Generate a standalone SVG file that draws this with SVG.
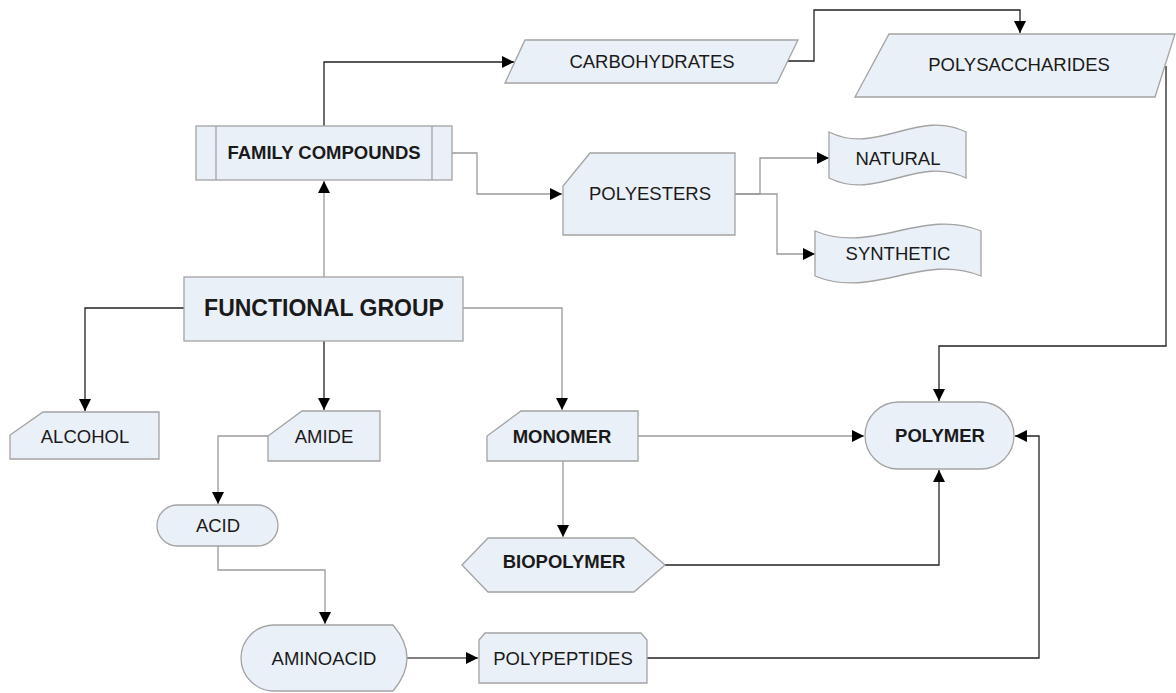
<svg xmlns="http://www.w3.org/2000/svg" width="1176" height="693" viewBox="0 0 1176 693">
<style>
.n{fill:#eaf0f8;stroke:#a3a3a3;stroke-width:1.3}
.t{font-family:"Liberation Sans",Arial,sans-serif;font-size:18.5px;fill:#1a1a1a;text-anchor:middle}
.b{font-weight:bold}
.k{fill:none;stroke:#222;stroke-width:1.3}
.g{fill:none;stroke:#9a9a9a;stroke-width:1.3}
</style>
<defs>
<marker id="ah" markerUnits="userSpaceOnUse" markerWidth="13" markerHeight="13" refX="12" refY="6" orient="auto">
<path d="M0,0 L12,6 L0,12 Z" fill="#000"/>
</marker>
</defs>
<rect width="1176" height="693" fill="#fff"/>
<g id="connectors">
<path class="g" d="M324,277 V181" marker-end="url(#ah)"/>
<path class="k" d="M324,126 V62 H514" marker-end="url(#ah)"/>
<path class="k" d="M787,61 H814 V10 H1020 V33" marker-end="url(#ah)"/>
<path class="k" d="M1166,66 V346 H939 V401" marker-end="url(#ah)"/>
<path class="g" d="M452,153 H477 V194 H562" marker-end="url(#ah)"/>
<path class="g" d="M735,194 H760 V158 H829" marker-end="url(#ah)"/>
<path class="g" d="M735,194 H777 V254 H815" marker-end="url(#ah)"/>
<path class="k" d="M184,308 H85 V411" marker-end="url(#ah)"/>
<path class="k" d="M324,341 V410" marker-end="url(#ah)"/>
<path class="g" d="M463,308 H562 V410" marker-end="url(#ah)"/>
<path class="g" d="M268,436 H218 V504" marker-end="url(#ah)"/>
<path class="g" d="M218,546 V570 H325 V624" marker-end="url(#ah)"/>
<path class="g" d="M407,658 H478" marker-end="url(#ah)" style="stroke:#555"/>
<path class="k" d="M647,658 H1039 V436 H1015" marker-end="url(#ah)"/>
<path class="g" d="M638,436 H864" marker-end="url(#ah)"/>
<path class="g" d="M563,461 V537" marker-end="url(#ah)"/>
<path class="k" d="M665,565 H939 V470" marker-end="url(#ah)"/>
</g>
<g id="family-compounds">
<rect class="n" x="196" y="126" width="256" height="54"/>
<path class="n" d="M216,126 V180 M432,126 V180" fill="none"/>
<text class="t b" x="324" y="159">FAMILY COMPOUNDS</text>
</g>
<g id="carbohydrates">
<polygon class="n" points="525,40 798,40 777,83 505,83"/>
<text class="t" x="652" y="68">CARBOHYDRATES</text>
</g>
<g id="polysaccharides">
<polygon class="n" points="889,34 1175,34 1155,97 855,97"/>
<text class="t" x="1019" y="71">POLYSACCHARIDES</text>
</g>
<g id="polyesters">
<polygon class="n" points="590,153 735,153 735,235 563,235 563,186"/>
<text class="t" x="650" y="200">POLYESTERS</text>
</g>
<g id="natural">
<path class="n" d="M829,132 C877,156 918,108 966,132 V178 C918,154 877,202 829,178 Z"/>
<text class="t" x="898" y="165">NATURAL</text>
</g>
<g id="synthetic">
<path class="n" d="M815,231 C873,255 923,207 981,231 V276 C923,252 873,300 815,276 Z"/>
<text class="t" x="898" y="260">SYNTHETIC</text>
</g>
<g id="functional-group">
<rect class="n" x="184" y="277" width="279" height="64"/>
<text class="t b" x="324" y="316" style="font-size:23px">FUNCTIONAL GROUP</text>
</g>
<g id="alcohol">
<polygon class="n" points="43,412 159,412 159,459 10,459 10,435"/>
<text class="t" x="85" y="443">ALCOHOL</text>
</g>
<g id="amide">
<polygon class="n" points="302,411 380,411 380,461 268,461 268,436"/>
<text class="t" x="324" y="443">AMIDE</text>
</g>
<g id="monomer">
<polygon class="n" points="521,411 638,411 638,461 487,461 487,436"/>
<text class="t b" x="562" y="443">MONOMER</text>
</g>
<g id="polymer">
<rect class="n" x="865" y="402" width="149" height="67" rx="33.5"/>
<text class="t b" x="940" y="442">POLYMER</text>
</g>
<g id="acid">
<rect class="n" x="157" y="505" width="121" height="41" rx="20.5"/>
<text class="t" x="218" y="532">ACID</text>
</g>
<g id="biopolymer">
<polygon class="n" points="462,565 488,538 634,538 665,565 634,592 488,592"/>
<text class="t b" x="564" y="568">BIOPOLYMER</text>
</g>
<g id="aminoacid">
<path class="n" d="M274,625 L393,625 Q421,658 393,691 L274,691 A33,33 0 0 1 274,625 Z"/>
<text class="t" x="324" y="665">AMINOACID</text>
</g>
<g id="polypeptides">
<polygon class="n" points="479,640 485,633 641,633 647,640 647,683 479,683"/>
<text class="t" x="563" y="665">POLYPEPTIDES</text>
</g>
</svg>
